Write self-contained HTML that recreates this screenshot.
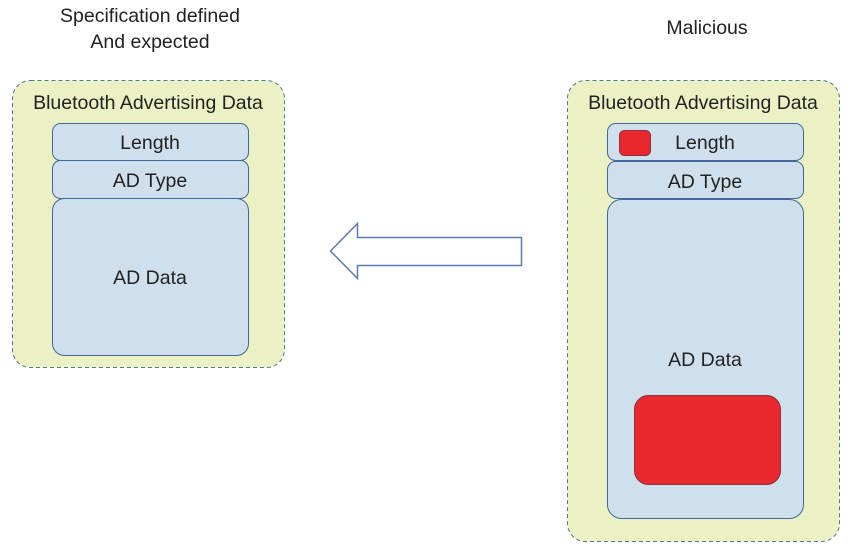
<!DOCTYPE html>
<html><head><style>body{margin:0;background:#fff}svg{display:block}text{font-family:"Liberation Sans",sans-serif;font-size:19.5px;fill:#222}</style></head><body>
<svg width="851" height="548" viewBox="0 0 851 548">
<text x="150" y="22" text-anchor="middle">Specification defined</text>
<text x="150" y="48" text-anchor="middle">And expected</text>
<text x="707" y="34" text-anchor="middle">Malicious</text>
<rect x="12.5" y="80.5" width="272" height="287" rx="18" fill="#ebf1c4" stroke="#4e7a8a" stroke-dasharray="4,3"/>
<text x="148" y="109" text-anchor="middle">Bluetooth Advertising Data</text>
<rect x="52.5" y="123.5" width="196" height="37" rx="8" fill="#cfdfec" stroke="#41689a"/>
<text x="150" y="149" text-anchor="middle">Length</text>
<rect x="52.5" y="160.5" width="196" height="38" rx="8" fill="#cfdfec" stroke="#41689a"/>
<text x="150" y="187" text-anchor="middle">AD Type</text>
<rect x="52.5" y="198.5" width="196" height="157" rx="12" fill="#cfdfec" stroke="#41689a"/>
<text x="150" y="284" text-anchor="middle">AD Data</text>
<polygon points="330.5,251 357.5,223.5 357.5,237.5 521.5,237.5 521.5,265.5 357.5,265.5 357.5,278.5" fill="#fff" stroke="#5a7bb0" stroke-width="1.5"/>
<rect x="567.5" y="80.5" width="272" height="461" rx="18" fill="#ebf1c4" stroke="#4e7a8a" stroke-dasharray="4,3"/>
<text x="703" y="109" text-anchor="middle">Bluetooth Advertising Data</text>
<rect x="607.5" y="123.5" width="196" height="37" rx="8" fill="#cfdfec" stroke="#41689a"/>
<rect x="619.5" y="130.5" width="31" height="25" rx="5" fill="#e8282d" stroke="#8a3040"/>
<text x="705" y="149" text-anchor="middle">Length</text>
<rect x="607.5" y="161.5" width="196" height="37" rx="8" fill="#cfdfec" stroke="#41689a"/>
<text x="705" y="188" text-anchor="middle">AD Type</text>
<rect x="607.5" y="199.5" width="196" height="319" rx="14" fill="#cfdfec" stroke="#41689a"/>
<text x="705" y="366" text-anchor="middle">AD Data</text>
<rect x="634.5" y="395.5" width="146" height="89" rx="14" fill="#e8282d" stroke="#8a3040"/>
</svg>
</body></html>
